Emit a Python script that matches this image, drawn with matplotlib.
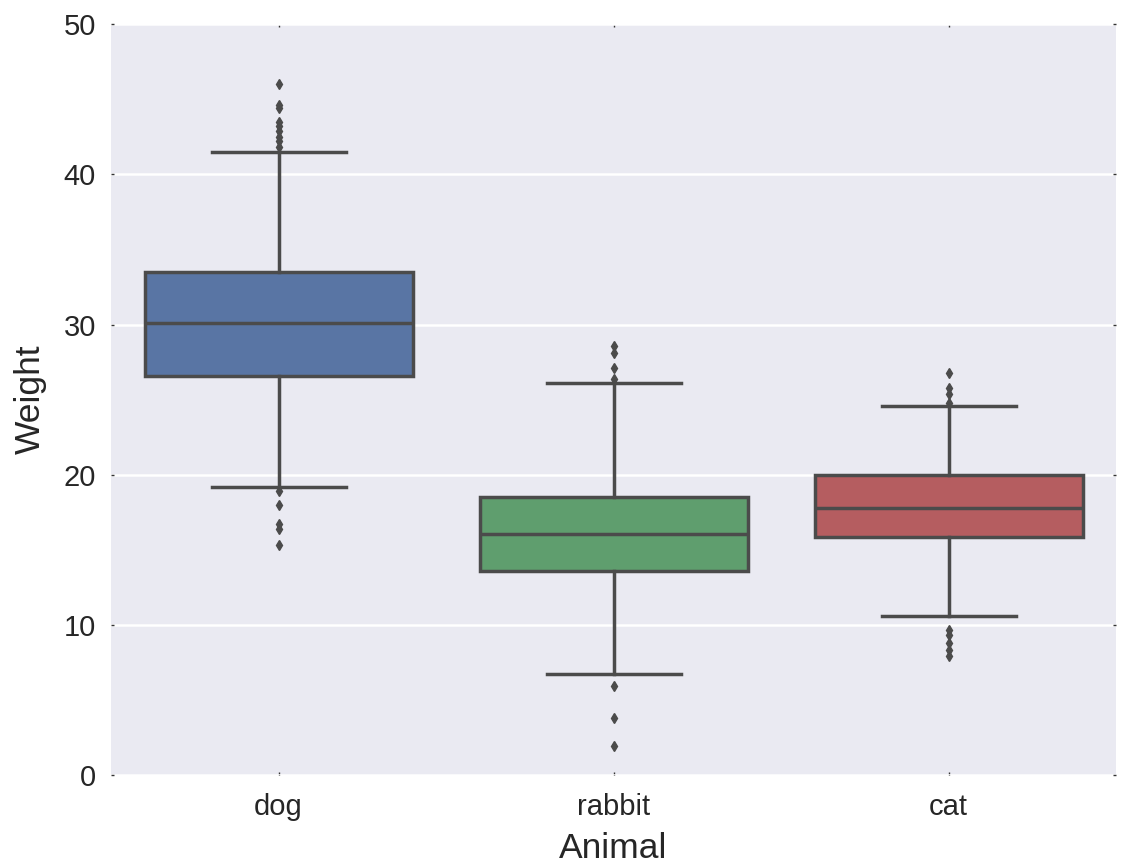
import numpy as np
import matplotlib
matplotlib.use("Agg")
import matplotlib.pyplot as plt

# Data
animals = ["dog", "rabbit", "cat"]
q1 = [26.6, 13.6, 15.85]
med = [30.1, 16.05, 17.8]
q3 = [33.5, 18.5, 20.0]
whislo = [19.2, 6.7, 10.6]
whishi = [41.5, 26.1, 24.6]
fliers = [
    [46.0, 44.6, 44.4, 43.5, 43.2, 42.9, 42.5, 42.2, 41.8, 18.9, 18.0, 16.7, 16.4, 15.3],
    [28.6, 28.1, 27.1, 26.4, 5.9, 3.8, 1.9],
    [26.8, 25.8, 25.4, 24.8, 9.65, 9.3, 8.8, 8.3, 7.9],
]
colors = ["#5975A4", "#5F9E6E", "#B55D60"]
line_col = "#4B4B4B"

stats = []
for i, a in enumerate(animals):
    stats.append(dict(label=a, q1=q1[i], med=med[i], q3=q3[i],
                      whislo=whislo[i], whishi=whishi[i], fliers=fliers[i]))

plt.rcParams["font.family"] = ["Liberation Sans", "DejaVu Sans"]

fig = plt.figure(figsize=(11.22, 8.64), dpi=100)
ax = fig.add_axes([0.099, 0.103, 0.8957, 0.869])
ax.set_facecolor("#EAEAF2")
for s in ax.spines.values():
    s.set_visible(False)
ax.yaxis.grid(True, color="white", linewidth=1.8)
ax.set_axisbelow(True)

bp = ax.bxp(stats, positions=range(3), widths=0.8, patch_artist=True,
            boxprops=dict(linewidth=2.5, edgecolor=line_col),
            medianprops=dict(linewidth=2.5, color=line_col),
            whiskerprops=dict(linewidth=2.5, color=line_col),
            capprops=dict(linewidth=2.5, color=line_col),
            flierprops=dict(marker="d", markersize=5, markerfacecolor=line_col,
                            markeredgecolor=line_col, linestyle="none"),
            capwidths=0.4)
for patch, c in zip(bp["boxes"], colors):
    patch.set_facecolor(c)

ax.set_xlim(-0.5, 2.5)
ax.set_ylim(0, 50)
ax.set_yticks([0, 10, 20, 30, 40, 50])
ax.set_xticks(range(3))
ax.set_xticklabels(animals)
ax.tick_params(axis="both", labelsize=21, labelcolor="#262626", length=2, width=1,
               direction="in", top=True, right=True, color="#333333")
ax.tick_params(axis="x", pad=13)
ax.tick_params(axis="y", pad=11)
ax.set_xlabel("Animal", fontsize=25.5, color="#262626", labelpad=8)
ax.set_ylabel("Weight", fontsize=25.5, color="#262626", labelpad=12)

fig.savefig("out.png", dpi=100)
